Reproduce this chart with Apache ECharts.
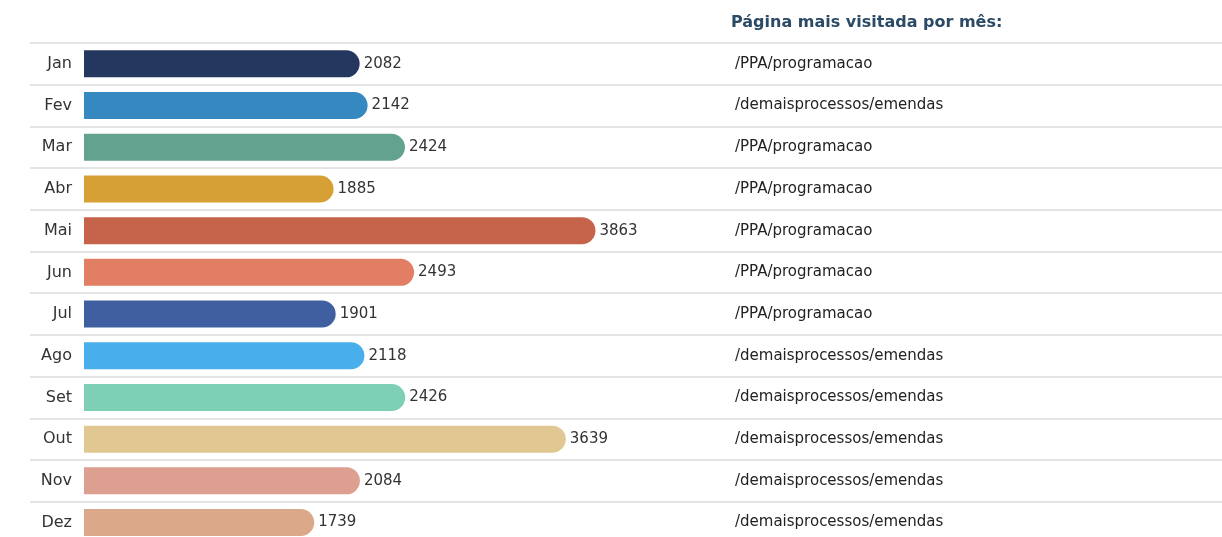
<!DOCTYPE html>
<html>
<head>
<meta charset="utf-8">
<script src="https://cdn.jsdelivr.net/npm/echarts@6/dist/echarts.min.js"></script>
<style>
  html, body { margin: 0; padding: 0; background: #ffffff; overflow: hidden; }
  /* the last row runs past the bottom edge of the window */
  #chart { width: 1222px; height: 548px; }
</style>
</head>
<body>
<div id="chart"></div>
<script>
// Monthly visits and the most visited page of each month
const months = ['Jan', 'Fev', 'Mar', 'Abr', 'Mai', 'Jun', 'Jul', 'Ago', 'Set', 'Out', 'Nov', 'Dez'];
const visits = [2082, 2142, 2424, 1885, 3863, 2493, 1901, 2118, 2426, 3639, 2084, 1739];
const topPages = [
  '/PPA/programacao', '/demaisprocessos/emendas', '/PPA/programacao', '/PPA/programacao',
  '/PPA/programacao', '/PPA/programacao', '/PPA/programacao', '/demaisprocessos/emendas',
  '/demaisprocessos/emendas', '/demaisprocessos/emendas', '/demaisprocessos/emendas', '/demaisprocessos/emendas'
];
const barColors = ['#24375f', '#3588c0', '#62a28f', '#d6a035', '#c5644a', '#e27e64',
                   '#3f5fa0', '#48aeec', '#7dcfb6', '#e1c792', '#dc9f90', '#dca88a'];
const headerText = 'Página mais visitada por mês:';

const FONT = 'DejaVu Sans';
const rowH = 41.7;
const gridTop = 43;
const gridH = rowH * months.length;

const chart = echarts.init(document.getElementById('chart'), null, { renderer: 'canvas' });

chart.setOption({
  animation: false,
  title: {
    text: headerText,
    left: 726,
    top: 10,
    textStyle: { fontFamily: FONT, fontSize: 16, fontWeight: 'bold', color: '#2b4a66' }
  },
  grid: [
    // bars
    { left: 84, top: gridTop, width: 662, height: gridH, containLabel: false },
    // row rules and page names
    { left: 30, right: 0, top: gridTop, height: gridH, containLabel: false }
  ],
  xAxis: [
    { gridIndex: 0, type: 'value', min: 0, max: 5000, show: false },
    { gridIndex: 1, type: 'value', min: 0, max: 1, show: false }
  ],
  yAxis: [
    {
      gridIndex: 0, type: 'category', data: months, inverse: true,
      axisLine: { show: false }, axisTick: { show: false }, splitLine: { show: false },
      axisLabel: { margin: 12, fontFamily: FONT, fontSize: 16, color: '#333333' }
    },
    {
      gridIndex: 1, type: 'category', data: topPages, inverse: true,
      axisLine: { show: false }, axisTick: { show: false },
      splitLine: { show: true, lineStyle: { color: '#e4e4e4', width: 2 } },
      axisLabel: {
        inside: true, margin: 705, align: 'left',
        fontFamily: FONT, fontSize: 15, color: '#222222'
      }
    }
  ],
  series: [
    {
      type: 'bar',
      xAxisIndex: 0, yAxisIndex: 0,
      data: visits.map((v, i) => ({ value: v, itemStyle: { color: barColors[i] } })),
      barWidth: 27,
      itemStyle: { borderRadius: [0, 14, 14, 0] },
      label: {
        show: true, position: 'right', distance: 4,
        fontFamily: FONT, fontSize: 15, color: '#333333'
      }
    }
  ]
});
</script>
</body>
</html>
